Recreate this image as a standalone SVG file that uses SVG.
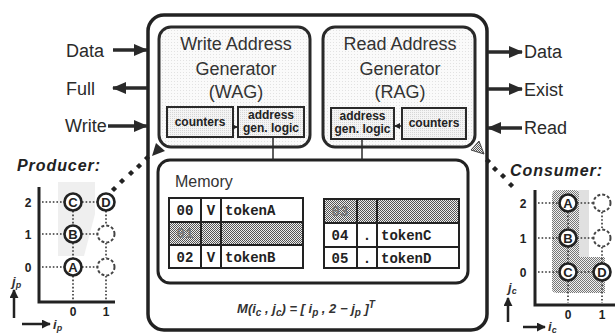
<svg xmlns="http://www.w3.org/2000/svg" width="615" height="336" viewBox="0 0 615 336">
<style>
.lbl{font-family:"Liberation Sans",Arial,sans-serif;font-size:18px;fill:#2a2a2a}
.gen{font-family:"Liberation Sans",Arial,sans-serif;font-size:18px;fill:#333;text-anchor:middle}
.sub{font-family:"Liberation Sans",Arial,sans-serif;font-size:12px;font-weight:bold;fill:#222;text-anchor:middle}
.mono{font-family:"Liberation Mono","Courier New",monospace;font-size:14px;font-weight:bold;fill:#222}
.monoc{font-family:"Liberation Mono","Courier New",monospace;font-size:14px;font-weight:bold;fill:#222;text-anchor:middle}
.ttl{font-family:"Liberation Sans",Arial,sans-serif;font-weight:bold;font-style:italic;font-size:16px;fill:#222}
.ax{font-family:"Liberation Sans",Arial,sans-serif;font-weight:bold;font-size:12px;fill:#222;text-anchor:middle}
.it{font-family:"Liberation Sans",Arial,sans-serif;font-style:italic;font-weight:bold;font-size:13px;fill:#333}
.box{fill:none;stroke:#222;stroke-width:3.5}
.gbox{fill:url(#lt);stroke:#2a2a2a;stroke-width:3}
.sbox{fill:url(#lt2);stroke:#2a2a2a;stroke-width:2}
.sig{stroke:#2a2a2a;stroke-width:3.5;fill:none;marker-end:url(#ah)}
.thin{stroke:#2a2a2a;stroke-width:1.5;fill:none}
.tbl{fill:none;stroke:#222;stroke-width:2}
.dot{stroke:#333;stroke-width:1.6;stroke-dasharray:1.6 2;fill:none}
.cir{fill:#fff;stroke:#222;stroke-width:2.6}
.dcir{fill:#fff;stroke:#444;stroke-width:2;stroke-dasharray:3 2}
.axis{stroke:#222;stroke-width:3;fill:none}
.cl{font-family:"Liberation Sans",Arial,sans-serif;font-weight:bold;font-size:13px;fill:#222;text-anchor:middle}
.diam{fill:#222}
</style>
<defs>
<marker id="ah" viewBox="0 0 14 12" refX="13" refY="6" markerWidth="14" markerHeight="12" markerUnits="userSpaceOnUse" orient="auto"><path d="M0,0 L14,6 L0,12 z" fill="#2a2a2a"/></marker>
<marker id="sa" viewBox="0 0 6 6" refX="6" refY="3" markerWidth="6" markerHeight="6" markerUnits="userSpaceOnUse" orient="auto"><path d="M0,0 L6,3 L0,6 z" fill="#222"/></marker>
<marker id="ax" viewBox="0 0 10 10" refX="9" refY="5" markerWidth="9" markerHeight="9" markerUnits="userSpaceOnUse" orient="auto"><path d="M0,0 L10,5 L0,10 z" fill="#222"/></marker>
<pattern id="lt" width="3" height="3" patternUnits="userSpaceOnUse"><rect width="3" height="3" fill="#fafafa"/><rect width="1" height="1" fill="#e2e2e2"/></pattern>
<pattern id="lt2" width="2" height="2" patternUnits="userSpaceOnUse"><rect width="2" height="2" fill="#f4f4f4"/><rect width="1" height="1" fill="#d6d6d6"/></pattern>
<pattern id="chk" width="2" height="2" patternUnits="userSpaceOnUse"><rect width="2" height="2" fill="#eeeeee"/><rect width="1" height="1" fill="#555"/><rect x="1" y="1" width="1" height="1" fill="#555"/></pattern>
</defs>

<g id="outer"><rect class="box" x="148" y="15" width="339" height="315" rx="16"/></g>

<g id="wag">
<rect class="gbox" x="159" y="27" width="151" height="120" rx="12"/>
<text class="gen" x="236" y="50">Write Address</text>
<text class="gen" x="236" y="75">Generator</text>
<text class="gen" x="236" y="98">(WAG)</text>
<g id="wag-counters"><rect class="sbox" x="167" y="107" width="66" height="30"/><text class="sub" x="200" y="126">counters</text></g>
<g id="wag-logic"><rect class="sbox" x="238" y="107" width="66" height="30"/><text class="sub" x="271" y="119">address</text><text class="sub" x="271" y="132">gen. logic</text></g>
</g>

<g id="rag">
<rect class="gbox" x="323" y="27" width="152" height="120" rx="12"/>
<text class="gen" x="400" y="50">Read Address</text>
<text class="gen" x="400" y="75">Generator</text>
<text class="gen" x="400" y="98">(RAG)</text>
<g id="rag-logic"><rect class="sbox" x="331" y="108" width="63" height="31"/><text class="sub" x="362.5" y="120">address</text><text class="sub" x="362.5" y="133">gen. logic</text></g>
<g id="rag-counters"><rect class="sbox" x="402" y="108" width="64" height="31"/><text class="sub" x="434" y="127">counters</text></g>
</g>

<g id="memory">
<rect class="box" style="stroke-width:3" x="158" y="160" width="310" height="123" rx="12"/>
<text x="175" y="187" style="font-family:'Liberation Sans',Arial,sans-serif;font-size:16px;fill:#333">Memory</text>
<g id="table-left">
<rect x="169" y="222" width="134" height="23" fill="url(#chk)"/>
<rect class="tbl" x="169" y="198" width="134" height="70"/>
<line class="tbl" x1="169" y1="222" x2="303" y2="222"/>
<line class="tbl" x1="169" y1="245" x2="303" y2="245"/>
<line class="tbl" x1="201" y1="198" x2="201" y2="268"/>
<line class="tbl" x1="221" y1="198" x2="221" y2="268"/>
<text class="monoc" x="185" y="215">00</text><text class="monoc" x="211" y="215">V</text><text class="mono" x="225" y="215">tokenA</text>
<text class="monoc" x="185" y="238" style="fill:#777">01</text>
<text class="monoc" x="185" y="262">02</text><text class="monoc" x="211" y="262">V</text><text class="mono" x="225" y="262">tokenB</text>
</g>
<g id="table-right">
<rect x="324" y="199" width="135" height="24" fill="url(#chk)"/>
<rect class="tbl" x="324" y="199" width="135" height="69"/>
<line class="tbl" x1="324" y1="223" x2="459" y2="223"/>
<line class="tbl" x1="324" y1="247" x2="459" y2="247"/>
<line class="tbl" x1="357" y1="199" x2="357" y2="268"/>
<line class="tbl" x1="377" y1="199" x2="377" y2="268"/>
<text class="monoc" x="340" y="216" style="fill:#777">03</text>
<text class="monoc" x="340" y="240">04</text><text class="monoc" x="367" y="240">.</text><text class="mono" x="381" y="240">tokenC</text>
<text class="monoc" x="340" y="263">05</text><text class="monoc" x="367" y="263">.</text><text class="mono" x="381" y="263">tokenD</text>
</g>
</g>

<g id="formula">
<text class="it" x="306" y="313" text-anchor="middle">M(i<tspan dy="3" font-size="10">c</tspan><tspan dy="-3"> , j</tspan><tspan dy="3" font-size="10">c</tspan><tspan dy="-3">) = [ i</tspan><tspan dy="3" font-size="10">p</tspan><tspan dy="-3"> , 2 − j</tspan><tspan dy="3" font-size="10">p</tspan><tspan dy="-3"> ]</tspan><tspan dy="-5" font-size="10">T</tspan></text>
</g>

<g id="connectors">
<line class="sig" x1="113" y1="50" x2="147" y2="50"/>
<line class="sig" x1="147" y1="88" x2="113" y2="88"/>
<line class="sig" x1="108" y1="126" x2="147" y2="126"/>
<line class="sig" x1="488" y1="52" x2="522" y2="52"/>
<line class="sig" x1="488" y1="89" x2="522" y2="89"/>
<line class="sig" x1="522" y1="128" x2="488" y2="128"/>
<line class="thin" x1="233" y1="127" x2="238" y2="127" marker-end="url(#sa)"/>
<line class="thin" x1="402" y1="126" x2="394" y2="126" marker-end="url(#sa)"/>
<line class="thin" x1="273" y1="137" x2="273" y2="160"/>
<line class="thin" x1="362" y1="139" x2="362" y2="160"/>
<path d="M152,156 L156,143 L165,151 z" fill="#2a2a2a"/>
<path d="M484,154 L471,150 L479,141 z" fill="url(#chk)" stroke="#444" stroke-width="1"/>
<g class="diam">
<rect x="-2.2" y="-2.2" width="4.4" height="4.4" transform="translate(114,189) rotate(45)"/>
<rect x="-2.2" y="-2.2" width="4.4" height="4.4" transform="translate(122,181) rotate(45)"/>
<rect x="-2.2" y="-2.2" width="4.4" height="4.4" transform="translate(131,173) rotate(45)"/>
<rect x="-2.2" y="-2.2" width="4.4" height="4.4" transform="translate(139,166) rotate(45)"/>
<rect x="-2.2" y="-2.2" width="4.4" height="4.4" transform="translate(147,158) rotate(45)"/>
<rect x="-2.2" y="-2.2" width="4.4" height="4.4" transform="translate(488,161) rotate(45)"/>
<rect x="-2.2" y="-2.2" width="4.4" height="4.4" transform="translate(495,169) rotate(45)"/>
<rect x="-2.2" y="-2.2" width="4.4" height="4.4" transform="translate(503,176) rotate(45)"/>
<rect x="-2.2" y="-2.2" width="4.4" height="4.4" transform="translate(511,185) rotate(45)"/>
</g>
</g>

<g id="labels">
<text class="lbl" x="66" y="57">Data</text>
<text class="lbl" x="66" y="95">Full</text>
<text class="lbl" x="65" y="132">Write</text>
<text class="lbl" x="524" y="58">Data</text>
<text class="lbl" x="524" y="96">Exist</text>
<text class="lbl" x="524" y="134">Read</text>
</g>

<g id="producer">
<text class="ttl" x="17" y="171" textLength="83">Producer:</text>
<path d="M58,182 L95,182 L95,214 L84,256 L58,256 z" fill="#efefef"/>
<path class="axis" d="M39,187 L39,302 L115,302"/>
<path class="dot" d="M42,202 H64 M82,202 H97 M42,234 H64 M82,234 H97 M42,267 H64 M82,267 H97 M73,211 V225 M73,243 V258 M73,276 V300 M106,211 V225 M106,243 V258 M106,276 V300"/>
<circle class="cir" cx="73" cy="202" r="8.5"/><text class="cl" x="73" y="206.5">C</text>
<circle class="cir" cx="106" cy="202" r="8.5"/><text class="cl" x="106" y="206.5">D</text>
<circle class="cir" cx="73" cy="234" r="8.5"/><text class="cl" x="73" y="238.5">B</text>
<circle class="dcir" cx="106" cy="234" r="8.5"/>
<circle class="cir" cx="73" cy="267" r="8.5"/><text class="cl" x="73" y="271.5">A</text>
<circle class="dcir" cx="106" cy="267" r="8.5"/>
<text class="ax" x="28" y="207">2</text><text class="ax" x="28" y="239">1</text><text class="ax" x="28" y="272">0</text>
<text class="ax" x="73" y="316">0</text><text class="ax" x="106" y="316">1</text>
<line x1="14" y1="318" x2="14" y2="290" stroke="#222" stroke-width="2.5" marker-end="url(#ax)"/>
<text class="it" x="12" y="286">j<tspan dy="2" font-size="9">p</tspan></text>
<line x1="22" y1="324" x2="50" y2="324" stroke="#222" stroke-width="2.5" marker-end="url(#ax)"/>
<text class="it" x="53" y="329">i<tspan dy="2" font-size="9">p</tspan></text>
</g>

<g id="consumer">
<text class="ttl" x="510" y="176" textLength="92">Consumer:</text>
<rect x="578" y="190" width="11" height="67" fill="#e0e0e0"/>
<path d="M556,190 Q552,190 552,196 L552,289 Q552,293 558,293 L605,293 L605,257 L579,257 L579,194 Q579,190 574,190 z" fill="url(#chk)" opacity="0.8"/>
<path class="axis" d="M535,190 L535,305 L615,305"/>
<path class="dot" d="M538,203 H559 M577,203 H593 M538,238 H559 M577,238 H593 M538,272 H559 M577,272 H593 M568,212 V229 M568,247 V263 M568,281 V303 M602,212 V229 M602,247 V263 M602,281 V303"/>
<circle class="cir" cx="568" cy="203" r="8.5"/><text class="cl" x="568" y="207.5">A</text>
<circle class="dcir" cx="602" cy="203" r="8.5"/>
<circle class="cir" cx="568" cy="238" r="8.5"/><text class="cl" x="568" y="242.5">B</text>
<circle class="dcir" cx="602" cy="238" r="8.5"/>
<circle class="cir" cx="568" cy="272" r="8.5"/><text class="cl" x="568" y="276.5">C</text>
<circle class="cir" cx="602" cy="272" r="8.5"/><text class="cl" x="602" y="276.5">D</text>
<text class="ax" x="523" y="208">2</text><text class="ax" x="523" y="243">1</text><text class="ax" x="523" y="277">0</text>
<text class="ax" x="568" y="319">0</text><text class="ax" x="602" y="319">1</text>
<line x1="508" y1="322" x2="508" y2="298" stroke="#222" stroke-width="2.5" marker-end="url(#ax)"/>
<text class="it" x="508" y="292">j<tspan dy="2" font-size="9">c</tspan></text>
<line x1="523" y1="327" x2="545" y2="327" stroke="#222" stroke-width="2.5" marker-end="url(#ax)"/>
<text class="it" x="548" y="331">i<tspan dy="2" font-size="9">c</tspan></text>
</g>
</svg>
